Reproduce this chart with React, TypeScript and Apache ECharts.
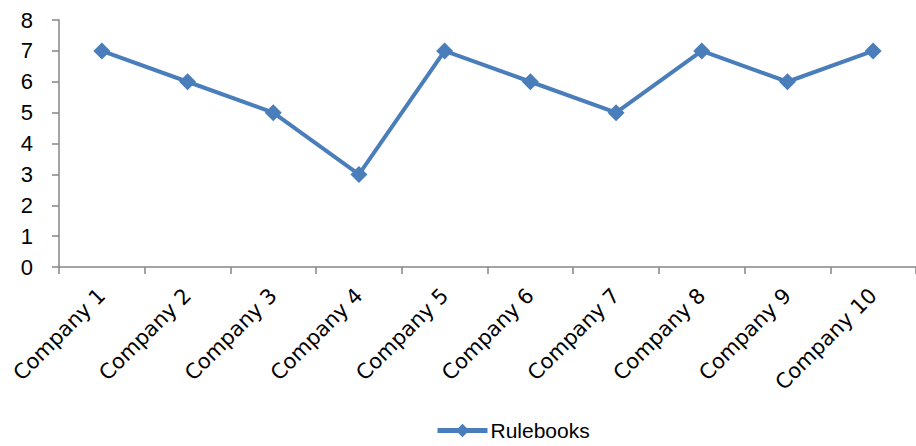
import React, { useEffect, useRef } from "react";
import * as echarts from "echarts";

const categories = [
  "Company 1", "Company 2", "Company 3", "Company 4", "Company 5",
  "Company 6", "Company 7", "Company 8", "Company 9", "Company 10",
];
const rulebooks = [7, 6, 5, 3, 7, 6, 5, 7, 6, 7];
const seriesName = "Rulebooks";

export default function App() {
  const ref = useRef<HTMLDivElement>(null);
  useEffect(() => {
    if (!ref.current) return;
    const chart = echarts.init(ref.current, undefined, { renderer: "svg" });
    const axisGray = "#868686";
    const blue = "#4A7EBB";
    chart.setOption({
      animation: false,
      backgroundColor: "#ffffff",
      grid: { left: 59, top: 20, right: -11, bottom: 179, containLabel: false },
      legend: {
        top: 420,
        left: 435,
        padding: 0,
        itemWidth: 50,
        itemHeight: 17,
        itemGap: 4,
        lineStyle: { width: 5 },
        textStyle: { fontFamily: "Liberation Sans", fontSize: 21, color: "#000", padding: [0, 0, 0, -2] },
        data: [seriesName],
      },
      xAxis: {
        type: "category",
        data: categories,
        boundaryGap: true,
        axisLine: { lineStyle: { color: axisGray, width: 1.5 } },
        axisTick: { show: true, length: 7, alignWithLabel: false, lineStyle: { color: axisGray, width: 1.5 } },
        axisLabel: {
          rotate: 45,
          margin: 25,
          fontFamily: "DejaVu Sans",
          fontSize: 21,
          color: "#000",
          interval: 0,
        },
        splitLine: { show: false },
      },
      yAxis: {
        type: "value",
        min: 0,
        max: 8,
        interval: 1,
        axisLine: { show: true, lineStyle: { color: axisGray, width: 1.5 } },
        axisTick: { show: true, length: 7, lineStyle: { color: axisGray, width: 1.5 } },
        axisLabel: { margin: 26, fontFamily: "Liberation Sans", fontSize: 22, color: "#000" },
        splitLine: { show: false },
      },
      series: [
        {
          name: seriesName,
          type: "line",
          data: rulebooks,
          symbol: "diamond",
          symbolSize: 17,
          itemStyle: { color: blue },
          lineStyle: { color: blue, width: 4 },
        },
      ],
    });
    return () => chart.dispose();
  }, []);
  return (
    <div style={{ position: "absolute", left: 0, top: 0, width: 916, height: 446, overflow: "hidden" }}>
      <div ref={ref} style={{ width: 916, height: 446 }} />
    </div>
  );
}
